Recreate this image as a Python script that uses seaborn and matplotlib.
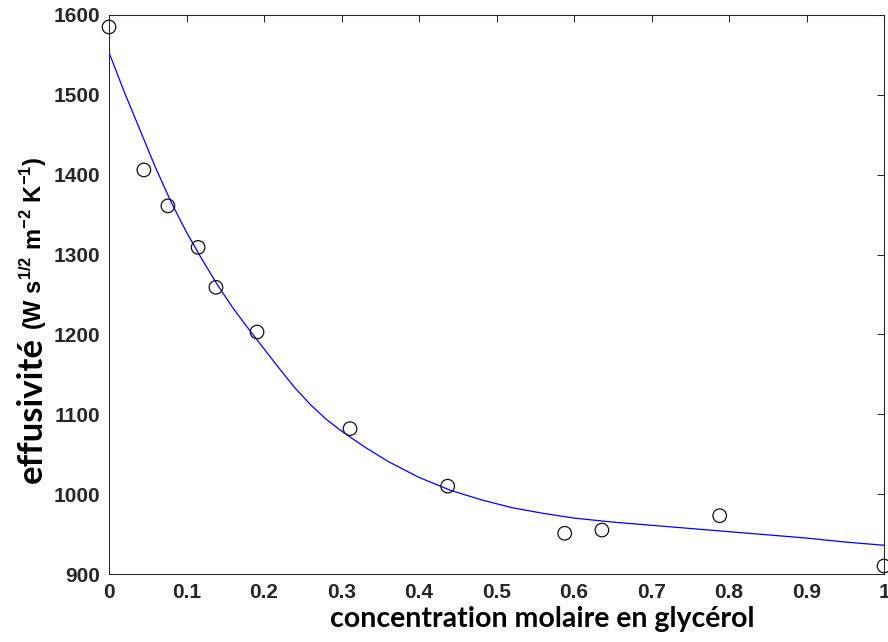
import matplotlib
matplotlib.use("Agg")
import matplotlib.pyplot as plt
import seaborn as sns
import pandas as pd

# measured points
conc = [0.0, 0.045, 0.076, 0.115, 0.138, 0.191, 0.311, 0.437, 0.588, 0.636, 0.788, 1.0]
effus = [1585, 1406, 1361, 1309, 1259, 1203, 1082, 1010, 951, 955, 973, 910]

# fitted curve
fit_x = [0.0, 0.02, 0.04, 0.06, 0.08, 0.10, 0.12, 0.14, 0.16, 0.18, 0.20, 0.22, 0.24,
         0.26, 0.28, 0.30, 0.33, 0.36, 0.40, 0.44, 0.48, 0.52, 0.56, 0.60, 0.65,
         0.70, 0.75, 0.80, 0.85, 0.90, 0.95, 1.00]
fit_y = [1553, 1503, 1456, 1409, 1366, 1328, 1294, 1262, 1233, 1207, 1182, 1157, 1133,
         1112, 1094, 1079, 1059, 1041, 1021, 1005, 993, 983, 976, 970, 965,
         961, 957, 953, 949, 945, 940, 936]

xticks = [0, 0.1, 0.2, 0.3, 0.4, 0.5, 0.6, 0.7, 0.8, 0.9, 1.0]
xtick_labels = ["0", "0.1", "0.2", "0.3", "0.4", "0.5", "0.6", "0.7", "0.8", "0.9", "1"]
yticks = [900, 1000, 1100, 1200, 1300, 1400, 1500, 1600]

xlabel = "concentration molaire en glycérol"
ylabel_a = "effusivité"
ylabel_b = r"(W s$^{\mathbf{1/2}}$ m$^{\mathbf{-2}}$ K$^{\mathbf{-1}}$)"

sns.set_theme(style="white")
plt.rcParams["font.family"] = ["Liberation Sans", "DejaVu Sans"]
plt.rcParams["mathtext.fontset"] = "custom"
plt.rcParams["mathtext.rm"] = "Liberation Sans:bold"
plt.rcParams["mathtext.bf"] = "Liberation Sans:bold"

axc = "#262626"
W, H = 888, 642
fig = plt.figure(figsize=(W / 100, H / 100), dpi=100)
ax = fig.add_axes([109 / W, 1 - 574 / H, (884 - 109) / W, (574 - 15) / H])

fit_df = pd.DataFrame({"x": fit_x, "y": fit_y})
pts_df = pd.DataFrame({"x": conc, "y": effus})

sns.lineplot(data=fit_df, x="x", y="y", ax=ax, color="#0000ff", lw=0.9, sort=False)
sns.scatterplot(data=pts_df, x="x", y="y", ax=ax, marker="o", s=95,
                linewidth=0.9, clip_on=False, zorder=3)
coll = ax.collections[-1]
coll.set_facecolor("none")
coll.set_edgecolor("#111111")

ax.set_xlim(0, 1)
ax.set_ylim(900, 1600)
ax.set_xticks(xticks)
ax.set_xticklabels(xtick_labels)
ax.set_yticks(yticks)
ax.set_xlabel("")
ax.set_ylabel("")
ax.tick_params(direction="in", top=True, right=True, length=5, width=0.75,
               color=axc, labelcolor=axc, labelsize=15, pad=6.5)
for lab in ax.get_xticklabels() + ax.get_yticklabels():
    lab.set_fontweight("bold")
for sp in ax.spines.values():
    sp.set_visible(True)
    sp.set_color(axc)
    sp.set_linewidth(0.75)

fig.text(542 / W, 1 - 627 / H, xlabel, ha="center", va="baseline",
         family=["Lato", "DejaVu Sans"], fontweight="bold", fontsize=20.5, color="black")
fig.text(42 / W, 1 - 483 / H, ylabel_a, rotation=90, rotation_mode="anchor",
         ha="left", va="baseline", family=["Lato", "DejaVu Sans"], fontweight="bold",
         fontsize=25, color="black")
fig.text(42 / W, 1 - 330 / H, ylabel_b, rotation=90, rotation_mode="anchor",
         ha="left", va="baseline", fontweight="bold", fontsize=17, color="black")

fig.savefig("out.png", dpi=100, facecolor="white")
